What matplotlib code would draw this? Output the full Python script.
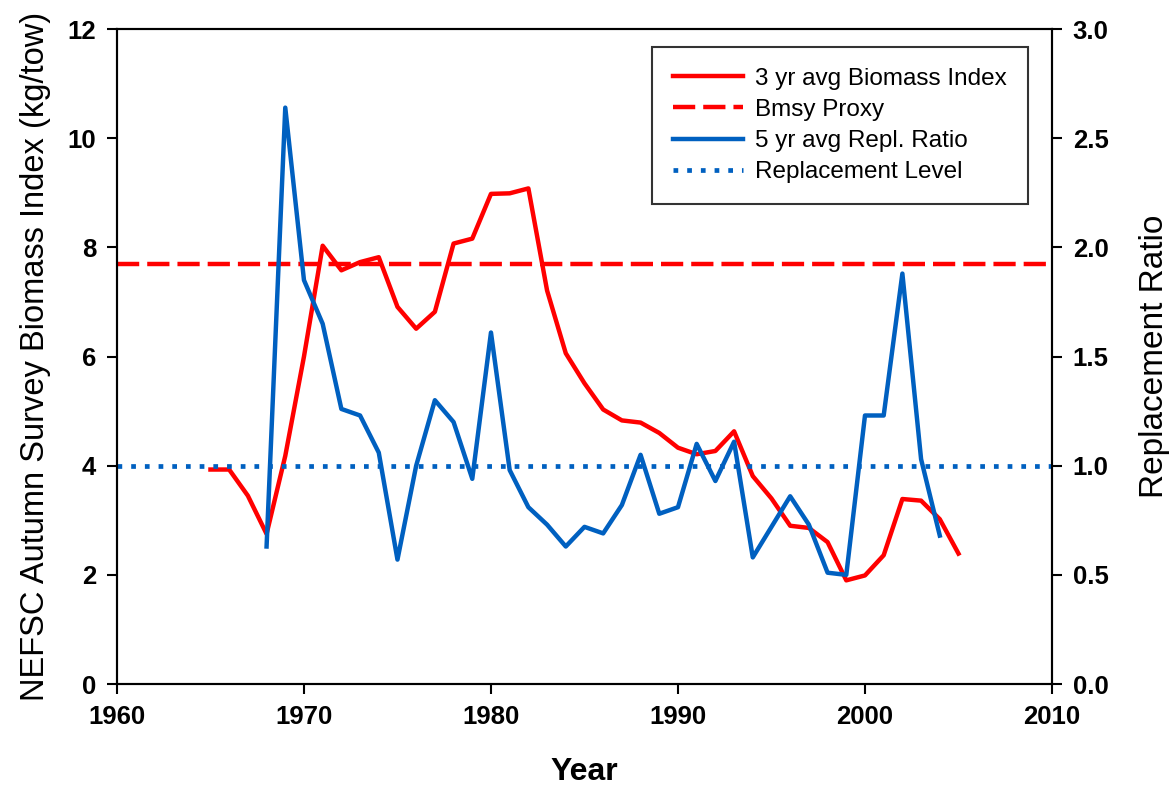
import matplotlib
matplotlib.use("Agg")
import matplotlib.pyplot as plt

# 3 yr avg biomass index (kg/tow), left axis
bio_years = list(range(1965, 2006))
bio_index = [3.93, 3.93, 3.45, 2.75, 4.18, 6.00, 8.03, 7.58, 7.73, 7.82,
             6.91, 6.51, 6.82, 8.07, 8.16, 8.98, 8.99, 9.08, 7.21, 6.06,
             5.51, 5.03, 4.83, 4.79, 4.60, 4.33, 4.21, 4.27, 4.63, 3.81,
             3.40, 2.90, 2.86, 2.60, 1.90, 1.99, 2.36, 3.39, 3.36, 3.02,
             2.39]

# 5 yr avg replacement ratio, right axis
rr_years = list(range(1968, 2005))
rr_ratio = [0.63, 2.64, 1.85, 1.65, 1.26, 1.23, 1.06, 0.57, 1.00, 1.30,
            1.20, 0.94, 1.61, 0.98, 0.81, 0.73, 0.63, 0.72, 0.69, 0.82,
            1.05, 0.78, 0.81, 1.10, 0.93, 1.11, 0.58, 0.72, 0.86, 0.73,
            0.51, 0.50, 1.23, 1.23, 1.88, 1.03, 0.68]

BMSY_PROXY = 7.7
REPL_LEVEL = 1.0

RED = "#ff0000"
BLUE = "#0060c0"
FONT = "Liberation Sans"

plt.rcParams['font.family'] = FONT

fig = plt.figure(figsize=(11.72, 7.91), dpi=100)
ax = fig.add_axes([0.0998, 0.1352, 0.7978, 0.8281])
ax2 = ax.twinx()

l1, = ax.plot(bio_years, bio_index, color=RED, lw=3.2, label="3 yr avg Biomass Index")
l2 = ax.axhline(BMSY_PROXY, color=RED, lw=3.2, dashes=(5.0, 1.8), label="Bmsy Proxy")
l3, = ax2.plot(rr_years, rr_ratio, color=BLUE, lw=3.2, label="5 yr avg Repl. Ratio")
l4 = ax2.axhline(REPL_LEVEL, color=BLUE, lw=3.4, dashes=(1.0, 1.9), label="Replacement Level")

ax.set_xlim(1960, 2010)
ax.set_ylim(0, 12)
ax2.set_ylim(0, 3)
ax.set_xticks(range(1960, 2011, 10))
ax.set_yticks(range(0, 13, 2))
ax2.set_yticks([0, 0.5, 1.0, 1.5, 2.0, 2.5, 3.0])
ax2.set_yticklabels(["%.1f" % v for v in [0, 0.5, 1.0, 1.5, 2.0, 2.5, 3.0]])

for a in (ax, ax2):
    a.tick_params(direction="out", length=7, width=1.5, labelsize=18.5, pad=8)
    for lab in a.get_xticklabels() + a.get_yticklabels():
        lab.set_fontweight("bold")
    for s in a.spines.values():
        s.set_linewidth(1.5)

ax.set_xlabel("Year", fontsize=23, fontweight="bold", labelpad=20)
ax.set_ylabel("NEFSC Autumn Survey Biomass Index (kg/tow)", fontsize=23.5, labelpad=12)
ax2.set_ylabel("Replacement Ratio", fontsize=24, labelpad=22)

leg = ax2.legend(handles=[l1, l2, l3, l4], loc="upper right", bbox_to_anchor=(0.974, 0.9725),
                 borderaxespad=0, fontsize=17.5, frameon=True, fancybox=False,
                 handlelength=2.9, borderpad=0.85, labelspacing=0.38, handletextpad=0.5)
leg.get_frame().set_edgecolor("black")
leg.get_frame().set_linewidth(1.5)

fig.savefig("out.png", dpi=100)
